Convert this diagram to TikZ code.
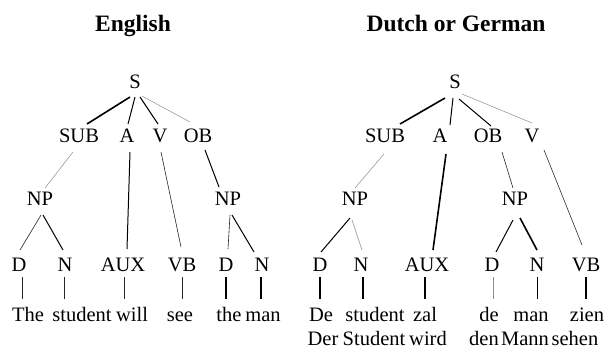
\documentclass[tikz,border=0pt]{standalone}
\usepackage{fontspec}
\setmainfont{Liberation Serif}
\usetikzlibrary{calc}
\tikzset{
  lab/.style={anchor=base, inner sep=0pt, font=\fontsize{20.5}{24}\selectfont},
  ttl/.style={anchor=base, inner sep=0pt, font=\fontsize{23.5}{27}\selectfont\bfseries},
  wA/.style={line width=1.6pt, black},
  wB/.style={line width=1.0pt, black},
  wC/.style={line width=0.6pt, black!85},
  wD/.style={line width=0.5pt, black!45},
}
\newcommand{\edg}[5]{\draw[#1] ($(#2.base)+(#3)$) -- ($(#4.base)+(#5)$);}
\begin{document}
\begin{tikzpicture}[x=1pt,y=-1pt]
\useasboundingbox (0,0) rectangle (608,349);
% titles
\node[ttl] (tE) at (133,31) {English};
\node[ttl] (tD) at (456,31) {Dutch or German};
% left tree
\node[lab] (S) at (135,88) {S};
\node[lab] (SUB) at (79,142) {SUB};
\node[lab] (A) at (127,142) {A};
\node[lab] (V) at (160,142) {V};
\node[lab] (OB) at (198,142) {OB};
\node[lab] (NPa) at (40,205) {NP};
\node[lab] (NPb) at (228,205) {NP};
\node[lab] (Da) at (19,271) {D};
\node[lab] (Na) at (65,271) {N};
\node[lab] (AUXa) at (123,271) {AUX};
\node[lab] (VBa) at (182,271) {VB};
\node[lab] (Db) at (226,271) {D};
\node[lab] (Nb) at (262,271) {N};
\node[lab] (w1) at (28,321) {The};
\node[lab] (w2) at (82,321) {student};
\node[lab] (w3) at (132,321) {will};
\node[lab] (w4) at (180,321) {see};
\node[lab] (w5) at (229,321) {the};
\node[lab] (w6) at (263,321) {man};
\edg{wA}{S}{-5,9}{SUB}{8,-18}
\edg{wB}{S}{0,9}{A}{1,-18}
\edg{wB}{S}{5,9}{V}{-2,-18}
\edg{wD}{S}{7,8}{OB}{-8,-20}
\edg{wD}{SUB}{-6,10}{NPa}{5,-17}
\edg{wB}{A}{3,10}{AUXa}{4,-22}
\edg{wC}{V}{1,10}{VBa}{-1,-24}
\edg{wB}{OB}{7,8}{NPb}{-9,-18}
\edg{wC}{NPa}{1,10}{Da}{1,-21}
\edg{wB}{NPa}{3,10}{Na}{-2,-21}
\edg{wC}{NPb}{2,10}{Db}{2,-22}
\edg{wB}{NPb}{4,10}{Nb}{-8,-19}
\edg{wC}{Da}{3,6}{w1}{-6,-22}
\edg{wC}{Na}{-1,6}{w2}{-18,-22}
\edg{wC}{AUXa}{1,6}{w3}{-8,-22}
\edg{wC}{VBa}{0,6}{w4}{2,-22}
\edg{wA}{Db}{0,6}{w5}{-3,-22}
\edg{wA}{Nb}{-1,6}{w6}{-2,-22}
% right tree
\node[lab] (S2) at (455,88) {S};
\node[lab] (SUB2) at (385,142) {SUB};
\node[lab] (A2) at (440,142) {A};
\node[lab] (OB2) at (488,142) {OB};
\node[lab] (V2) at (532,142) {V};
\node[lab] (NPc) at (355,205) {NP};
\node[lab] (NPd) at (515,205) {NP};
\node[lab] (Dc) at (320,271) {D};
\node[lab] (Nc) at (361,271) {N};
\node[lab] (AUXb) at (427,271) {AUX};
\node[lab] (Dd) at (492,271) {D};
\node[lab] (Nd) at (537,271) {N};
\node[lab] (VBb) at (586,271) {VB};
\node[lab] (u1) at (321,321) {De};
\node[lab] (u2) at (375,321) {student};
\node[lab] (u3) at (425,321) {zal};
\node[lab] (u4) at (489,321) {de};
\node[lab] (u5) at (531,321) {man};
\node[lab] (u6) at (587,321) {zien};
\node[lab] (g1) at (323,345) {Der};
\node[lab] (g2) at (374,345) {Student};
\node[lab] (g3) at (428,345) {wird};
\node[lab] (g4) at (484,345) {den};
\node[lab] (g5) at (525,345) {Mann};
\node[lab] (g6) at (575,345) {sehen};
\edg{wA}{S2}{-10,10}{SUB2}{15,-18}
\edg{wB}{S2}{-2,10}{A2}{10,-17}
\edg{wB}{S2}{4,11}{OB2}{3,-16}
\edg{wD}{S2}{7,6}{V2}{0,-19}
\edg{wD}{SUB2}{-1,12}{NPc}{0,-17}
\edg{wA}{A2}{6,12}{AUXb}{6,-21}
\edg{wC}{OB2}{14,10}{NPd}{-2,-17}
\edg{wC}{V2}{12,8}{VBb}{-4,-26}
\edg{wB}{NPc}{-5,13}{Dc}{1,-19}
\edg{wD}{NPc}{-3,15}{Nc}{1,-21}
\edg{wB}{NPd}{-2,15}{Dd}{4,-19}
\edg{wA}{NPd}{5,13}{Nd}{0,-21}
\edg{wA}{Dc}{0,6}{u1}{-1,-22}
\edg{wA}{Nc}{2,6}{u2}{-12,-22}
\edg{wA}{AUXb}{-2,6}{u3}{0,-22}
\edg{wD}{Dd}{1,6}{u4}{4,-22}
\edg{wB}{Nd}{0,6}{u5}{6,-22}
\edg{wA}{VBb}{0,6}{u6}{-1,-22}
\end{tikzpicture}
\end{document}
